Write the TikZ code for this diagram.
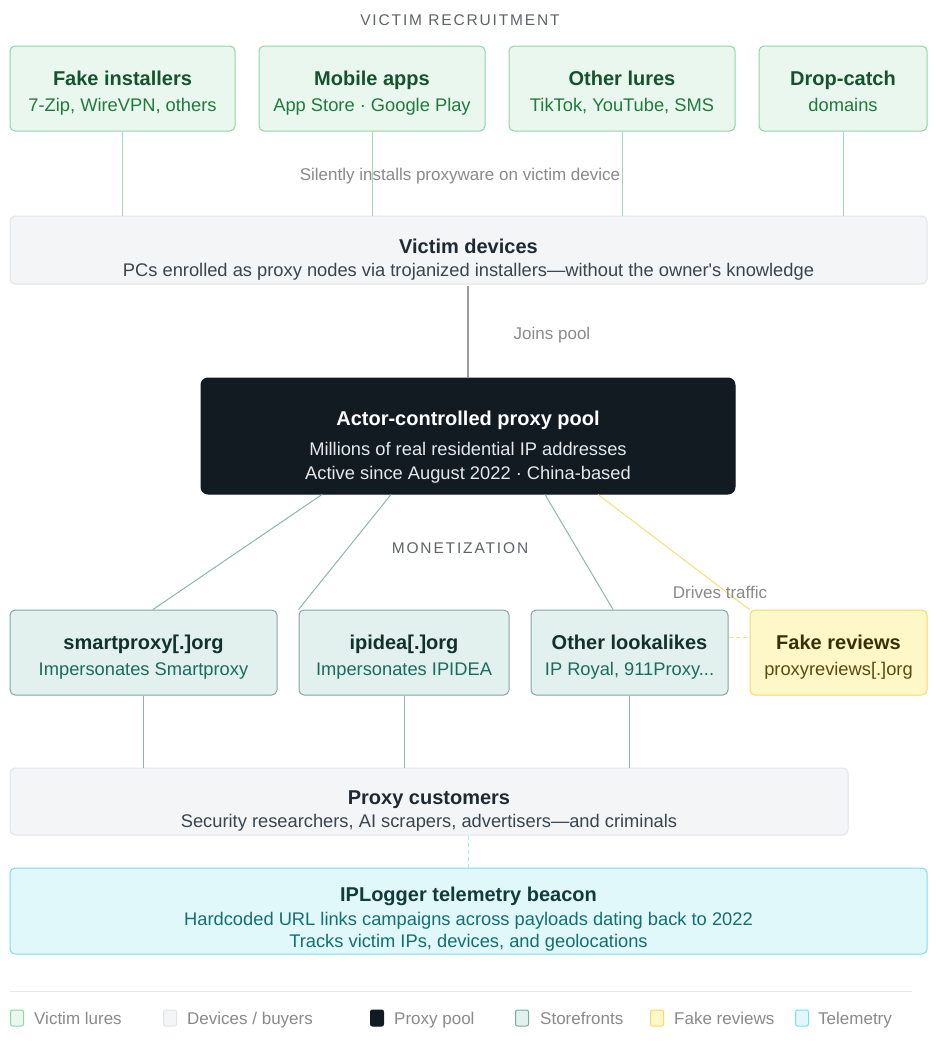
\documentclass[tikz,border=0pt]{standalone}
\usepackage{fontspec}
\setmainfont{Liberation Sans}
\newfontfamily\spacedfont[LetterSpace=12]{Liberation Sans}
\usetikzlibrary{positioning}
\definecolor{lureFill}{HTML}{EAF7EE}
\definecolor{lureDraw}{HTML}{8FD6A5}
\definecolor{lureTitle}{HTML}{14532D}
\definecolor{lureSub}{HTML}{1E7B3A}
\definecolor{lureLine}{HTML}{9EDCB2}
\definecolor{devFill}{HTML}{F3F5F6}
\definecolor{devDraw}{HTML}{E1E5E8}
\definecolor{devTitle}{HTML}{1F2933}
\definecolor{devSub}{HTML}{3A4550}
\definecolor{poolFill}{HTML}{131B22}
\definecolor{poolSub}{HTML}{E6E8EA}
\definecolor{storeFill}{HTML}{E2F0EE}
\definecolor{storeDraw}{HTML}{7FA8A3}
\definecolor{storeTitle}{HTML}{12302C}
\definecolor{storeSub}{HTML}{1A6B60}
\definecolor{storeLine}{HTML}{8FB5B0}
\definecolor{revFill}{HTML}{FEF7C8}
\definecolor{revDraw}{HTML}{F3DA6A}
\definecolor{revTitle}{HTML}{3A2E08}
\definecolor{revSub}{HTML}{5A4A10}
\definecolor{revLine}{HTML}{F5E07A}
\definecolor{telFill}{HTML}{E0F8FA}
\definecolor{telDraw}{HTML}{80DDE8}
\definecolor{telTitle}{HTML}{123A3A}
\definecolor{telSub}{HTML}{13706E}
\definecolor{telLine}{HTML}{A8E8EE}
\definecolor{labelGray}{HTML}{8A8A8A}
\definecolor{headGray}{HTML}{5F6368}
\definecolor{joinLine}{HTML}{9A9A9A}
\definecolor{sepLine}{HTML}{E5E7EB}
\tikzset{
  x=1pt, y=-1pt,
  boxbase/.style={rounded corners=5pt, inner sep=0pt, line width=1pt, align=center},
  lure/.style={boxbase, fill=lureFill, draw=lureDraw, minimum height=85pt},
  dev/.style={boxbase, fill=devFill, draw=devDraw},
  pool/.style={boxbase, fill=poolFill, draw=poolFill, rounded corners=7pt},
  store/.style={boxbase, fill=storeFill, draw=storeDraw, minimum height=85pt},
  rev/.style={boxbase, fill=revFill, draw=revDraw, minimum height=85pt},
  tel/.style={boxbase, fill=telFill, draw=telDraw},
  ttl/.style={font=\fontsize{20}{24}\selectfont\bfseries, anchor=base, inner sep=0pt},
  sub/.style={font=\fontsize{18.3}{22}\selectfont, anchor=base, inner sep=0pt},
  lbl/.style={font=\fontsize{17}{20}\selectfont, text=labelGray, inner sep=1pt, anchor=base},
  head/.style={font=\fontsize{15.5}{18}\spacedfont, text=headGray, anchor=base},
  lureln/.style={draw=lureLine, line width=1pt},
  storeln/.style={draw=storeLine, line width=1pt},
  legsq/.style={rounded corners=2pt, minimum width=13pt, minimum height=16pt, inner sep=0pt, line width=1pt},
  legtxt/.style={font=\fontsize{17}{20}\selectfont, text=labelGray, anchor=base west, inner sep=0pt},
}
\begin{document}
\begin{tikzpicture}
\useasboundingbox[fill=white] (0,0) rectangle (936,1042);

% headings
\node[head] (h1) at (460,25) {VICTIM RECRUITMENT};
\node[head] (h2) at (460,553) {MONETIZATION};

% lures
\node[lure, minimum width=225pt] (l1) at (122.5,88.5) {};
\node[lure, minimum width=226pt] (l2) at (372,88.5) {};
\node[lure, minimum width=226pt] (l3) at (622,88.5) {};
\node[lure, minimum width=168pt] (l4) at (843,88.5) {};
\node[ttl, text=lureTitle] (l1t) at (122.5,85) {Fake installers};
\node[sub, text=lureSub] (l1s) at (122.5,111) {7-Zip, WireVPN, others};
\node[ttl, text=lureTitle] (l2t) at (372,85) {Mobile apps};
\node[sub, text=lureSub] (l2s) at (372,111) {App Store · Google Play};
\node[ttl, text=lureTitle] (l3t) at (622,85) {Other lures};
\node[sub, text=lureSub] (l3s) at (622,111) {TikTok, YouTube, SMS};
\node[ttl, text=lureTitle] (l4t) at (843,85) {Drop-catch};
\node[sub, text=lureSub] (l4s) at (843,111) {domains};

% victim devices
\node[dev, minimum width=917pt, minimum height=68pt] (vd) at (468.5,250) {};
\node[ttl, text=devTitle] (vdt) at (468.5,253) {Victim devices};
\node[sub, text=devSub] (vds) at (468.5,276) {PCs enrolled as proxy nodes via trojanized installers—without the owner\textquotesingle s knowledge};

\foreach \n/\x in {l1/122, l2/372, l3/622, l4/843}
  \draw[lureln] (\n.south -| \x,0) -- (vd.north -| \x,0);
\node[lbl] (silent) at (460,180) {Silently installs proxyware on victim device};

% pool
\node[pool, minimum width=534pt, minimum height=116pt] (pool) at (468,436) {};
\node[ttl, text=white] (poolt) at (468,425) {Actor-controlled proxy pool};
\node[sub, text=poolSub] (pools1) at (468,455) {Millions of real residential IP addresses};
\node[sub, text=poolSub] (pools2) at (468,479) {Active since August 2022 · China-based};
\draw[draw=joinLine, line width=2pt] (vd.south -| pool.north) ++(0,1) -- (pool.north);
\node[lbl] (joins) at (552,339) {Joins pool};

% storefronts
\node[store, minimum width=267pt] (s1) at (143.5,652.5) {};
\node[store, minimum width=210pt] (s2) at (404,652.5) {};
\node[store, minimum width=197pt] (s3) at (629.5,652.5) {};
\node[rev, minimum width=177pt] (rv) at (838.5,652.5) {};
\node[ttl, text=storeTitle] (s1t) at (143.5,649) {smartproxy[.]org};
\node[sub, text=storeSub] (s1s) at (143.5,675) {Impersonates Smartproxy};
\node[ttl, text=storeTitle] (s2t) at (404,649) {ipidea[.]org};
\node[sub, text=storeSub] (s2s) at (404,675) {Impersonates IPIDEA};
\node[ttl, text=storeTitle] (s3t) at (629.5,649) {Other lookalikes};
\node[sub, text=storeSub] (s3s) at (629.5,675) {IP Royal, 911Proxy...};
\node[ttl, text=revTitle] (rvt) at (838.5,649) {Fake reviews};
\node[sub, text=revSub] (rvs) at (838.5,675) {proxyreviews[.]org};

\draw[storeln] (pool.south -| 322,0) -- (s1.north -| 153,0);
\draw[storeln] (pool.south -| 391,0) -- (s2.north west);
\draw[storeln] (pool.south -| 545,0) -- (s3.north -| 613,0);
\draw[draw=revLine, line width=1pt] (pool.south -| 598,0) -- (rv.north west);
\draw[draw=revLine, line width=1pt, dash pattern=on 4pt off 3pt] (s3.east |- 0,637) -- (rv.west |- 0,637);
\node[lbl] (drives) at (720,598) {Drives traffic};

% customers
\node[dev, minimum width=838pt, minimum height=67pt] (pc) at (429,801.5) {};
\node[ttl, text=devTitle] (pct) at (429,804) {Proxy customers};
\node[sub, text=devSub] (pcs) at (429,827) {Security researchers, AI scrapers, advertisers—and criminals};
\draw[storeln] (s1.south -| 143,0) -- (pc.north -| 143,0);
\draw[storeln] (s2.south) -- (pc.north -| s2.south);
\draw[storeln] (s3.south) -- (pc.north -| s3.south);

% telemetry
\node[tel, minimum width=917pt, minimum height=86pt] (tel) at (468.5,911) {};
\node[ttl, text=telTitle] (telt) at (468.5,901) {IPLogger telemetry beacon};
\node[sub, text=telSub] (tels1) at (468.5,925) {Hardcoded URL links campaigns across payloads dating back to 2022};
\node[sub, text=telSub] (tels2) at (468.5,947) {Tracks victim IPs, devices, and geolocations};
\draw[draw=telLine, line width=1pt, dash pattern=on 4pt off 3pt] (pc.south -| 468,0) -- (tel.north -| 468,0);

% legend
\draw[draw=sepLine, line width=1pt] (10,991) -- (912,991);
\node[legsq, fill=lureFill, draw=lureDraw] (k1) at (17,1018) {};
\node[legtxt] (k1t) at (34,1024) {Victim lures};
\node[legsq, fill=devFill, draw=devDraw] (k2) at (170,1018) {};
\node[legtxt] (k2t) at (187,1024) {Devices / buyers};
\node[legsq, fill=poolFill, draw=poolFill] (k3) at (377,1018) {};
\node[legtxt] (k3t) at (394,1024) {Proxy pool};
\node[legsq, fill=storeFill, draw=storeDraw] (k4) at (522,1018) {};
\node[legtxt] (k4t) at (540,1024) {Storefronts};
\node[legsq, fill=revFill, draw=revDraw] (k5) at (657,1018) {};
\node[legtxt] (k5t) at (674,1024) {Fake reviews};
\node[legsq, fill=telFill, draw=telDraw] (k6) at (802,1018) {};
\node[legtxt] (k6t) at (818,1024) {Telemetry};
\end{tikzpicture}
\end{document}
